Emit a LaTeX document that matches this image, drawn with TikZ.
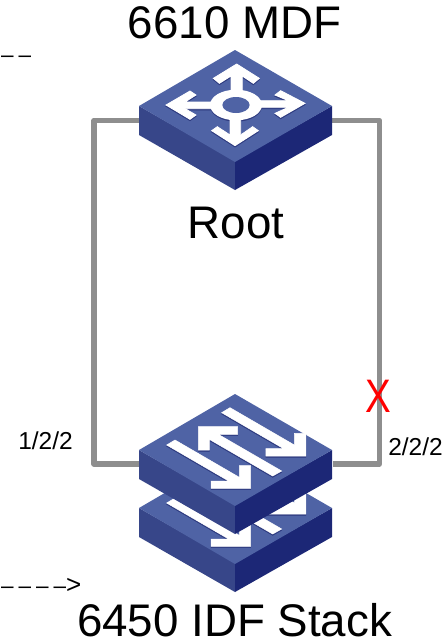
\documentclass[tikz,border=0pt]{standalone}
\usepackage{fontspec}
\setmainfont{Liberation Sans}
\newfontfamily\markerfont[LetterSpace=22]{Liberation Sans}
\definecolor{topface}{HTML}{4F63A5}
\definecolor{leftface}{HTML}{374689}
\definecolor{rightface}{HTML}{1C2776}
\definecolor{iconshade}{HTML}{2E3B80}
\definecolor{linkgray}{HTML}{8E8E8E}
\tikzset{
  x=1pt,y=-1pt,
  link/.style={draw=linkgray,line width=5.5pt,line join=round,line cap=butt},
  title/.style={anchor=base,font=\fontsize{45.7}{48}\selectfont,inner sep=0pt},
  portlabel/.style={anchor=base,font=\fontsize{24.5}{28}\selectfont,inner sep=0pt},
  marker/.style={anchor=base west,font=\markerfont\fontsize{22.5}{26}\selectfont,inner sep=0pt},
  devicearea/.style={minimum width=193pt,inner sep=0pt,outer sep=0pt},
  pics/slab/.style={code={
    \fill[leftface] (0,111) -- (-96,56) -- (-96,85) -- (0,140) -- cycle;
    \fill[rightface] (0,111) -- (97,56) -- (97,85) -- (0,140) -- cycle;
    \fill[topface] (0,0) -- (-96,56) -- (0,112) -- (97,56) -- cycle;
  }},
  pics/switcharrows/.style={code={
    \begin{scope}[shift={(-75,6)},x=.33333pt,y=-.33333pt]
      \foreach \dy/\col in {4/iconshade,0/white}{
      \begin{scope}[shift={(0,\dy)}]
      \filldraw[fill=\col,draw=\col,line width=.5pt] (20,135) -- (45,120) -- (238,232) -- (238,197) -- (272,197) -- (272,265) -- (153,265) -- (153,243) -- (206,243) -- cycle;
      \filldraw[fill=\col,draw=\col,line width=.5pt] (185,38) -- (210,23) -- (403,135) -- (403,100) -- (438,100) -- (438,168) -- (318,168) -- (318,146) -- (371,146) -- cycle;
      \filldraw[fill=\col,draw=\col,line width=.5pt] (115,80) -- (233,80) -- (233,103) -- (175,103) -- (365,213) -- (338,228) -- (148,118) -- (148,150) -- (115,150) -- cycle;
      \end{scope}}
    \end{scope}
  }},
}
\begin{document}
\begin{tikzpicture}[x=1pt,y=-1pt]
\useasboundingbox (0,0) rectangle (445,641);
% device areas
\node[devicearea,minimum height=140pt] (mdf) at (235.5,120) {};
\node[devicearea,minimum height=139pt] (idf) at (235.5,463.5) {};
% connector ends
\coordinate (mdfL) at (139,120.5);
\coordinate (mdfR) at (332,120.5);
\coordinate (idfL) at (139,464);
\coordinate (idfR) at (333,464);
\coordinate (cornerTL) at (94,120.5);
\coordinate (cornerBL) at (94,464);
\coordinate (cornerTR) at (379.5,120.5);
\coordinate (cornerBR) at (379.5,464);
\draw[link] (mdfL) -- (cornerTL) -- (cornerBL) -- (idfL);
\draw[link] (mdfR) -- (cornerTR) -- (cornerBR) -- (idfR);
% router
\pic at (235,50) {slab};
\begin{scope}[shift={(160,60)},x=.33333pt,y=-.33333pt]
  \foreach \dy/\col in {4/iconshade,0/white}{
  \begin{scope}[shift={(0,\dy)}]
  \filldraw[fill=\col,draw=\col,line width=.8pt] (230,12) -- (298,55) -- (280,70) -- (247,48) -- (247,100) -- (213,100) -- (213,48) -- (178,70) -- (160,55) -- cycle;
  \filldraw[fill=\col,draw=\col,line width=.8pt] (225,257) -- (155,212) -- (172,200) -- (210,225) -- (210,170) -- (242,170) -- (242,225) -- (278,200) -- (295,212) -- cycle;
  \filldraw[fill=\col,draw=\col,line width=.8pt] (18,135) -- (90,93) -- (108,105) -- (75,126) -- (155,126) -- (155,146) -- (75,146) -- (108,165) -- (90,178) -- cycle;
  \filldraw[fill=\col,draw=\col,line width=.8pt] (435,130) -- (362,92) -- (345,105) -- (385,122) -- (300,122) -- (300,142) -- (385,142) -- (345,160) -- (362,172) -- cycle;
  \fill[\col] (228,135) ellipse [x radius=78,y radius=46];
  \end{scope}}
  \fill[topface] (228,135) ellipse [x radius=41,y radius=24];
\end{scope}
% stack
\pic at (235,452) {slab};
\pic at (235,452) {switcharrows};
\pic at (235,394) {slab};
\pic at (235,394) {switcharrows};
% texts
\node[title] (t1) at (234.5,38) {6610 MDF};
\node[title] (t2) at (236,238) {Root};
\node[title] (t3) at (234.5,636) {6450 IDF Stack};
\node[portlabel] (p1) at (45.5,449) {1/2/2};
\node[portlabel] (p2) at (415.5,455) {2/2/2};
\node[anchor=base,font=\fontsize{47}{50}\selectfont,text=red,inner sep=0pt,xscale=.82] (x) at (378,412) {X};
\node[marker] (m1) at (1,62.5) {––};
\node[marker] (m2) at (1,593) {––––{\fontsize{26}{28}\selectfont >}};
\end{tikzpicture}
\end{document}
